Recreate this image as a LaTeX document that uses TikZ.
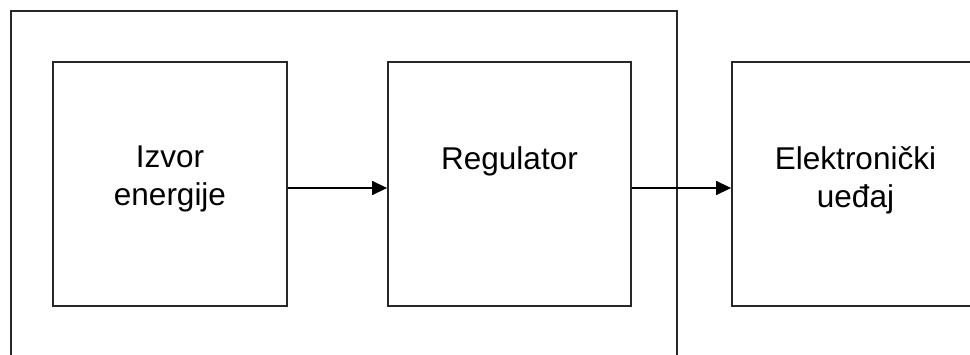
\documentclass[tikz,border=0pt]{standalone}
\usepackage{fontspec}
\setmainfont{Liberation Sans}
\usetikzlibrary{positioning, arrows.meta}
\definecolor{ink}{RGB}{40,40,40}
\tikzstyle{frame} = [rectangle, draw=ink, line width=1.8pt, anchor=north west]
\tikzstyle{block} = [rectangle, minimum width=243pt, minimum height=244pt, draw=ink, line width=1.8pt, inner sep=0pt]
\tikzstyle{caption} = [anchor=north, inner sep=0pt, align=center, font=\fontsize{31.5}{38}\selectfont]
\tikzstyle{arrow} = [line width=1.4pt, -{Triangle[length=15pt,width=14pt]}, draw=black]

\begin{document}
\begin{tikzpicture}[x=1pt, y=-1pt]
        \useasboundingbox (0,0) rectangle (970,354);
        \node (unit) [frame, minimum width=666pt, minimum height=380pt] at (10,10) {};
        \node (src) [block, minimum width=234pt] at (170,184) {};
        \node (reg) [block] at (509.5,184) {};
        \node (dev) [block] at (853.5,184) {};

        \node (srctxt) [caption, below=85pt of src.north] {Izvor\\energije};
        \node (regtxt) [caption, below=85pt of reg.north] {Regulator};
        \node (devtxt) [caption, below=85pt of dev.north, xshift=2pt] {Elektronički\\ueđaj};

        \draw [arrow] ([yshift=-4pt]src.east) -- ([yshift=-4pt]reg.west);
        \draw [arrow] ([yshift=-4pt]reg.east) -- ([yshift=-4pt]dev.west);
\end{tikzpicture}
\end{document}
